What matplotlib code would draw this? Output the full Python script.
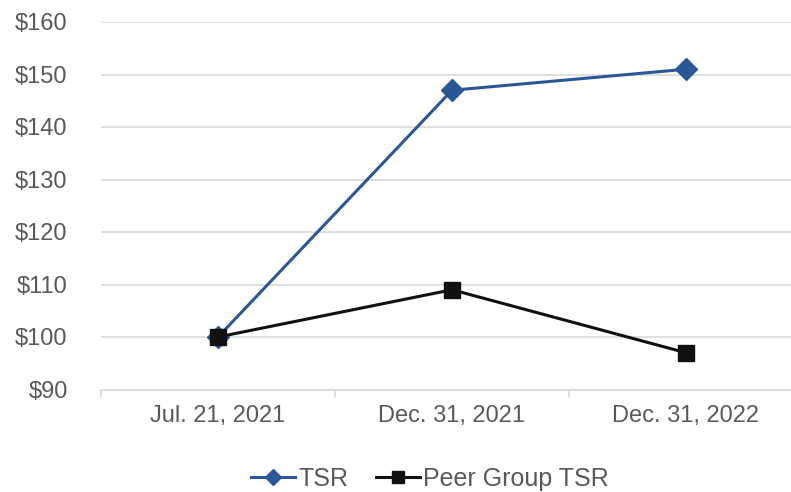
import matplotlib
matplotlib.use('Agg')
import matplotlib.pyplot as plt
from matplotlib.ticker import FixedLocator

# DATA
# ----
dates = ['Jul. 21, 2021', 'Dec. 31, 2021', 'Dec. 31, 2022']
tsr = [100, 147, 151]
peer_tsr = [100, 109, 97]
yticks = [90, 100, 110, 120, 130, 140, 150, 160]
# ----

plt.rcParams['font.family'] = ['Liberation Sans', 'DejaVu Sans']

W, H = 791, 492
fig = plt.figure(figsize=(W / 100, H / 100), dpi=100)
# axes spans the category bands; right edge runs past the canvas like the original
ax = fig.add_axes([101 / W, (H - 389.5) / H, 702 / W, 367.5 / H])

x = list(range(len(dates)))
ax.plot(x, tsr, color='#2b5797', lw=2.2, marker='D', ms=11,
        label='TSR', zorder=3)
ax.plot(x, peer_tsr, color='#111111', lw=2.2, marker='s', ms=11,
        label='Peer Group TSR', zorder=3)

ax.set_xlim(-0.5, len(dates) - 0.5)
ax.set_ylim(90, 160)
ax.set_yticks(yticks)
ax.set_yticklabels(['${0}'.format(v) for v in yticks])
ax.set_xticks(x)
ax.set_xticklabels(dates)
ax.xaxis.set_minor_locator(FixedLocator([-0.5, 0.5, 1.5, 2.5]))

ax.grid(axis='y', color='#d9d9d9', lw=1.2)
ax.set_axisbelow(True)
for s in ['top', 'right', 'left']:
    ax.spines[s].set_visible(False)
ax.spines['bottom'].set_color('#d9d9d9')
ax.spines['bottom'].set_linewidth(1.2)

ax.tick_params(axis='y', length=0, pad=24, labelsize=17, labelcolor='#595959')
ax.tick_params(axis='x', which='major', length=0, pad=11, labelsize=17,
               labelcolor='#595959')
ax.tick_params(axis='x', which='minor', length=5, color='#d9d9d9', width=1.2)

fig.legend(loc='center', bbox_to_anchor=(430 / W, 1 - 479 / H), ncol=2,
           frameon=False, fontsize=18, labelcolor='#595959',
           handlelength=1.75, handletextpad=0.15, columnspacing=1.1,
           markerscale=0.75)

fig.savefig('out.png', dpi=100)
